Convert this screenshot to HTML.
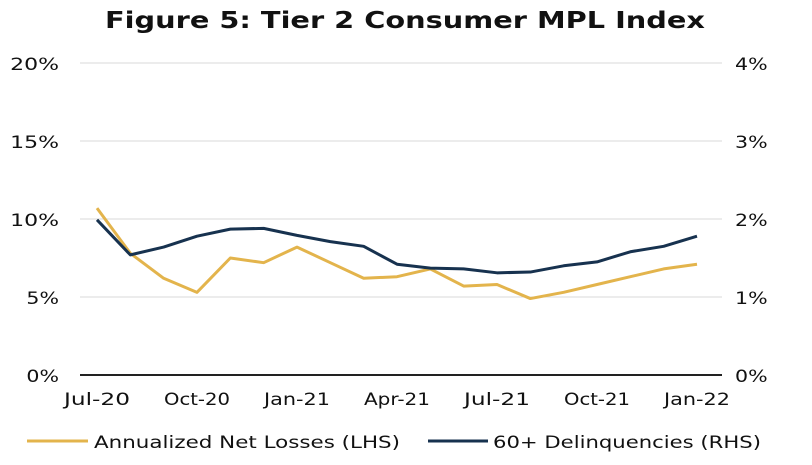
<!DOCTYPE html>
<html><head><meta charset="utf-8"><style>
body{margin:0;background:#fff;width:812px;height:461px;overflow:hidden;font-family:"DejaVu Sans","Liberation Sans",sans-serif}
svg text{font-family:"DejaVu Sans","Liberation Sans",sans-serif;fill:#111}
</style></head><body>
<svg id="c" width="812" height="461"></svg>
<script>
const categories=["Jul-20","Aug-20","Sep-20","Oct-20","Nov-20","Dec-20","Jan-21","Feb-21","Mar-21","Apr-21","May-21","Jun-21","Jul-21","Aug-21","Sep-21","Oct-21","Nov-21","Dec-21","Jan-22"];
const netLosses=[10.7,7.8,6.2,5.3,7.5,7.2,8.2,7.2,6.2,6.3,6.8,5.7,5.8,4.9,5.3,5.8,6.3,6.8,7.1];
const delinq=[1.99,1.54,1.64,1.78,1.87,1.88,1.79,1.71,1.65,1.42,1.37,1.36,1.31,1.32,1.40,1.45,1.58,1.65,1.78];
const leftTicks=[0,5,10,15,20];
const rightTicks=[0,1,2,3,4];
const xLabelIdx=[0,3,6,9,12,15,18];
const NS="http://www.w3.org/2000/svg",svg=document.getElementById('c');
function el(t,a,txt){const e=document.createElementNS(NS,t);for(const k in a)e.setAttribute(k,a[k]);if(txt!=null)e.textContent=txt;svg.appendChild(e);return e;}
const x0=97,x1=697,yB=375,yT=63;
const xs=i=>x0+(x1-x0)*i/(categories.length-1);
const yL=v=>yB-(yB-yT)*v/20;
const yR=v=>yB-(yB-yT)*v/4;
let t=el('text',{x:105,y:28,'font-size':23,'font-weight':'bold',textLength:600,lengthAdjust:'spacingAndGlyphs'},'Figure 5: Tier 2 Consumer MPL Index');

leftTicks.forEach((v,i)=>{
 let g=el('line',{x1:80,x2:722,y1:yL(v),y2:yL(v),stroke:v===0?'#222':'#d9d9d9','stroke-width':v===0?2:1});
 
 const s=v+'%';
 let a=el('text',{x:59,y:yL(v)+7,'text-anchor':'end','font-size':17,textLength:s.length*16.3,lengthAdjust:'spacingAndGlyphs'},s);
 
 const r=rightTicks[i]+'%';
 let b=el('text',{x:735,y:yR(rightTicks[i])+7,'font-size':17,textLength:r.length*16.3,lengthAdjust:'spacingAndGlyphs'},r);
 
});
xLabelIdx.forEach(i=>{
 let a=el('text',{x:xs(i),y:405,'text-anchor':'middle','font-size':17,textLength:66,lengthAdjust:'spacingAndGlyphs'},categories[i]);
 
});
let p1=el('polyline',{points:netLosses.map((v,i)=>xs(i)+','+yL(v)).join(' '),fill:'none',stroke:'#e3b44c','stroke-width':3,'stroke-linejoin':'round'});

let p2=el('polyline',{points:delinq.map((v,i)=>xs(i)+','+yR(v)).join(' '),fill:'none',stroke:'#17324f','stroke-width':3,'stroke-linejoin':'round'});

let l1=el('line',{x1:27,x2:88,y1:441,y2:441,stroke:'#e3b44c','stroke-width':3});

let lt1=el('text',{x:94,y:448,'font-size':17,textLength:306,lengthAdjust:'spacingAndGlyphs'},'Annualized Net Losses (LHS)');

let l2=el('line',{x1:428,x2:488,y1:441,y2:441,stroke:'#17324f','stroke-width':3});

let lt2=el('text',{x:493,y:448,'font-size':17,textLength:268,lengthAdjust:'spacingAndGlyphs'},'60+ Delinquencies (RHS)');

</script>
</body></html>
